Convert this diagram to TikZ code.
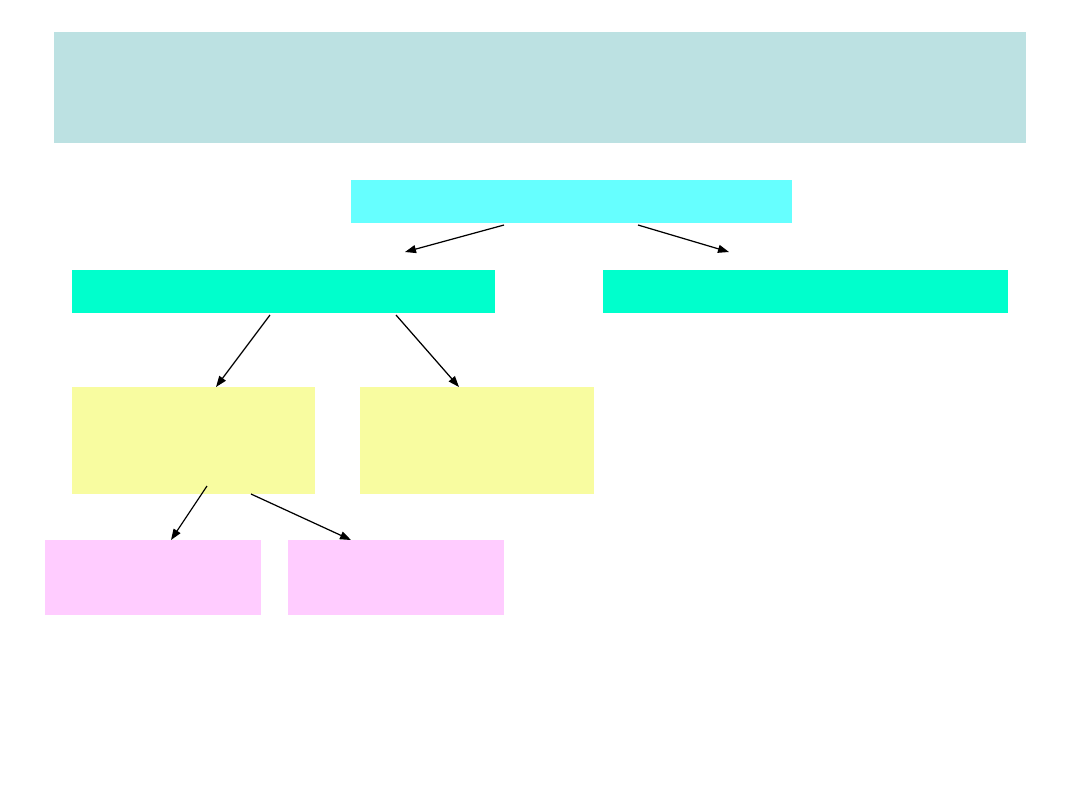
\documentclass[tikz,border=0pt]{standalone}
\usetikzlibrary{arrows.meta}

\definecolor{treeTitle}{RGB}{188,225,226}
\definecolor{treeRoot}{RGB}{102,255,255}
\definecolor{treeBranch}{RGB}{0,255,204}
\definecolor{treeLeaf}{RGB}{248,252,160}
\definecolor{treeTwig}{RGB}{255,204,255}
\definecolor{treeLink}{RGB}{0,0,0}

\begin{document}
\begin{tikzpicture}[x=1cm,y=1cm,
      box/.style={inner sep=0pt, outer sep=0pt, draw=none, anchor=center},
      title/.style={box, fill=treeTitle, minimum width=9.72cm, minimum height=1.11cm},
      root/.style={box, fill=treeRoot, minimum width=4.41cm, minimum height=.43cm},
      branch/.style={box, fill=treeBranch, minimum height=.43cm},
      leaf/.style={box, fill=treeLeaf, minimum height=1.07cm},
      twig/.style={box, fill=treeTwig, minimum width=2.16cm, minimum height=.75cm},
      link/.style={draw=treeLink, line width=.35pt,
        -{Triangle[length=1.1mm,width=.8mm]}}]
      \useasboundingbox (0,0) rectangle (10.8,8.1);
      \fill[white] (0,0) rectangle (10.8,8.1);

      \node[title] (head) at (5.40,7.225) {};
      \node[root] (root) at (5.715,6.085) {};

      \node[branch, minimum width=4.23cm] (brA) at (2.835,5.185) {};
      \node[branch, minimum width=4.05cm] (brB) at (8.055,5.185) {};

      \node[leaf, minimum width=2.43cm] (lfA) at (1.935,3.695) {};
      \node[leaf, minimum width=2.34cm] (lfB) at (4.77,3.695) {};

      \node[twig] (twA) at (1.53,2.325) {};
      \node[twig] (twB) at (3.96,2.325) {};

      % free ends above the second row
      \coordinate (tipA) at (4.05,5.58);
      \coordinate (tipB) at (7.29,5.58);

      \draw[link] ([shift={(-.675,-.02)}]root.south) -- (tipA);
      \draw[link] ([shift={(.665,-.02)}]root.south) -- (tipB);

      \draw[link] ([shift={(-.135,-.02)}]brA.south) -- ([xshift=.225cm]lfA.north);
      \draw[link] ([shift={(1.125,-.02)}]brA.south) -- ([xshift=-.18cm]lfB.north);

      \draw[link] ([shift={(.135,.08)}]lfA.south) -- ([xshift=.18cm]twA.north);
      \draw[link] ([xshift=.575cm]lfA.south) -- ([xshift=-.45cm]twB.north);
    \end{tikzpicture}
\end{document}
